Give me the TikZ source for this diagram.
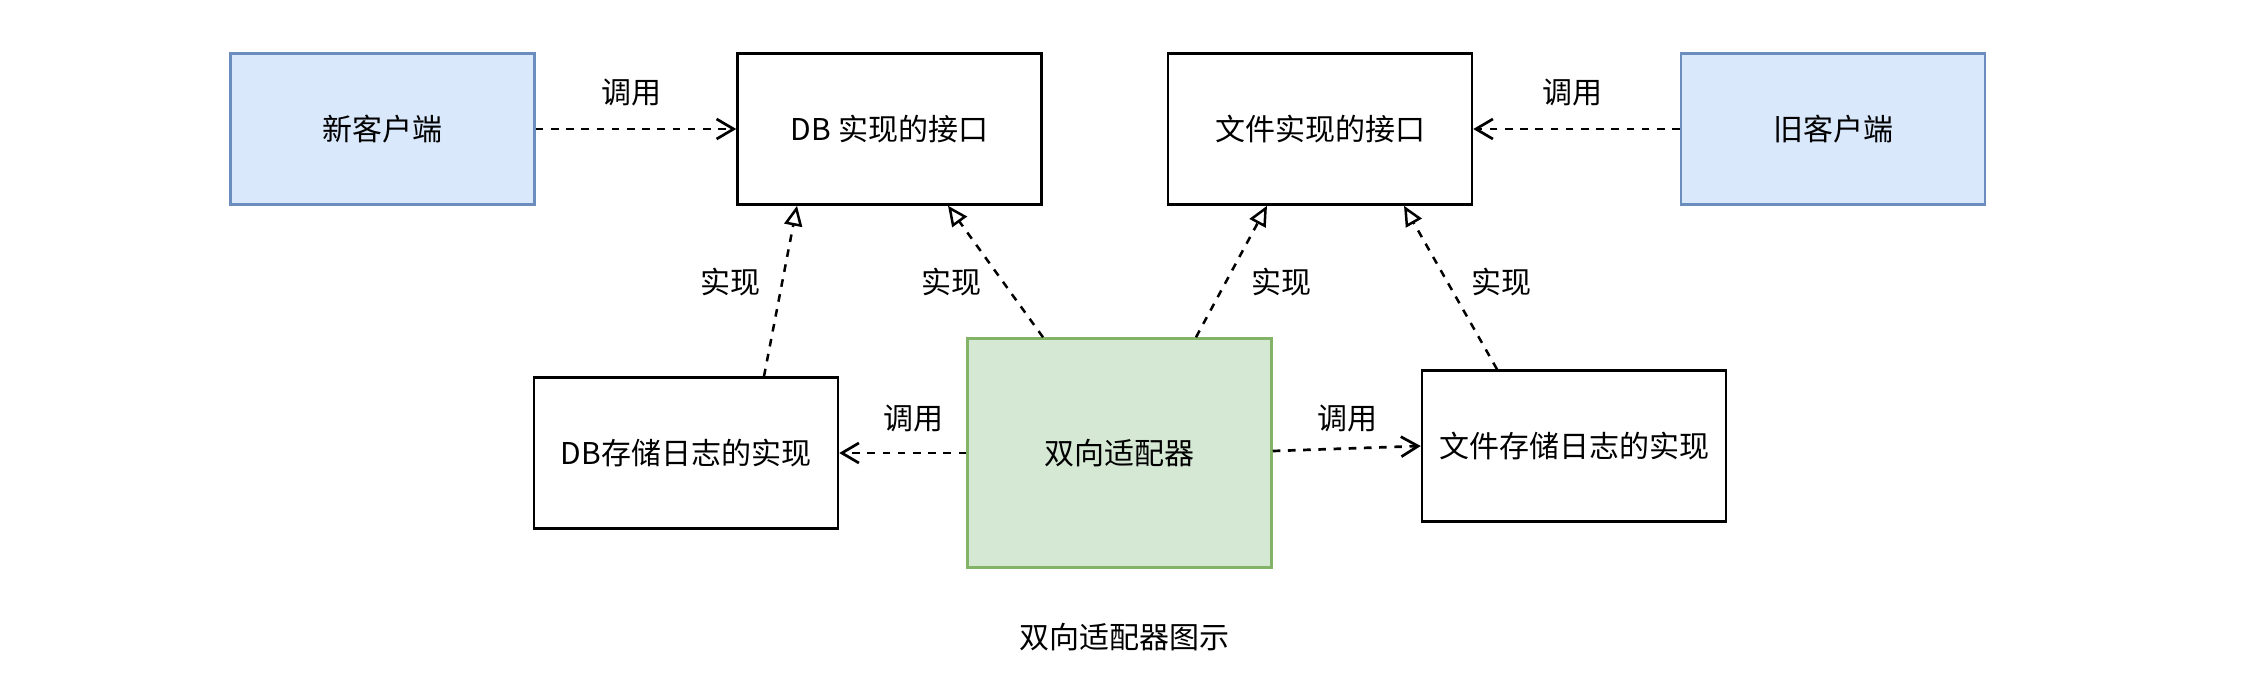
\documentclass[tikz,border=0pt]{standalone}
\usepackage{fontspec}
\setmainfont{Noto Sans CJK SC}
\usetikzlibrary{calc,arrows.meta}
\definecolor{clientfill}{HTML}{DAE8FC}
\definecolor{clientline}{HTML}{6C8EBF}
\definecolor{adaptfill}{HTML}{D5E8D4}
\definecolor{adaptline}{HTML}{82B366}
\tikzset{
	box/.style={draw=black, line width=1.25pt, fill=white, minimum width=152pt, minimum height=75.5pt, inner sep=0pt},
	clientbox/.style={box, draw=clientline, fill=clientfill},
	adaptbox/.style={box, draw=adaptline, fill=adaptfill, minimum height=114.5pt},
	calls/.style={line width=1.35pt, dash pattern=on 3.8pt off 3.8pt, -{Straight Barb[length=8.5pt, width=10pt, line width=1.35pt]}},
	realizes/.style={line width=1.25pt, dash pattern=on 3.8pt off 3.8pt, -{Triangle[open, fill=white, length=10pt, width=9pt, line width=1.25pt]}},
	lbl/.style={inner sep=0pt}
}

\begin{document}
\begin{tikzpicture}[x=0.5pt, y=-0.5pt, font=\fontsize{15pt}{18pt}\selectfont]
		%%%%% START %%%%%
		\useasboundingbox (0, 0) rectangle (2259, 687);
		
		\node[clientbox] (newclient) at (382.5, 129) {新客户端};
		\node[box] (dbiface) at (889.5, 129) {DB 实现的接口};
		\node[box] (fileiface) at (1320, 129) {文件实现的接口};
		\node[clientbox] (oldclient) at (1833, 129) {旧客户端};
		
		\node[box] (dbimpl) at (686, 453) {DB存储日志的实现};
		\node[adaptbox] (adapter) at (1119.5, 453) {双向适配器};
		\node[box] (fileimpl) at (1574, 446) {文件存储日志的实现};
		
		% calls
		\draw[calls] (newclient) -- (dbiface);
		\draw[calls] (oldclient) -- (fileiface);
		\draw[calls] (adapter.west) -- (dbimpl.east);
		\draw[calls] (adapter.east |- 0, 451) -- (fileimpl.west);
		
		\node[lbl] (callA) at (631, 92) {调用};
		\node[lbl] (callB) at (1572, 92) {调用};
		\node[lbl] (callC) at (913, 418) {调用};
		\node[lbl] (callD) at (1347, 418) {调用};
		
		% realizations
		\draw[realizes] ($(dbimpl.north)+(78, 0)$) -- ($(dbiface.south)+(-92.5, 0)$);
		\draw[realizes] ($(adapter.north)+(-76.5, 0)$) -- ($(dbiface.south)+(58.5, 0)$);
		\draw[realizes] ($(adapter.north)+(76.5, 0)$) -- ($(fileiface.south)+(-53, 0)$);
		\draw[realizes] ($(fileimpl.north)+(-77, 0)$) -- ($(fileiface.south)+(84, 0)$);
		
		\node[lbl] (implA) at (730, 282) {实现};
		\node[lbl] (implB) at (951, 282) {实现};
		\node[lbl] (implC) at (1281, 282) {实现};
		\node[lbl] (implD) at (1501, 282) {实现};
		
		\node[lbl] (caption) at (1124, 637) {双向适配器图示};
		%%%%% END %%%%%
\end{tikzpicture}
\end{document}
